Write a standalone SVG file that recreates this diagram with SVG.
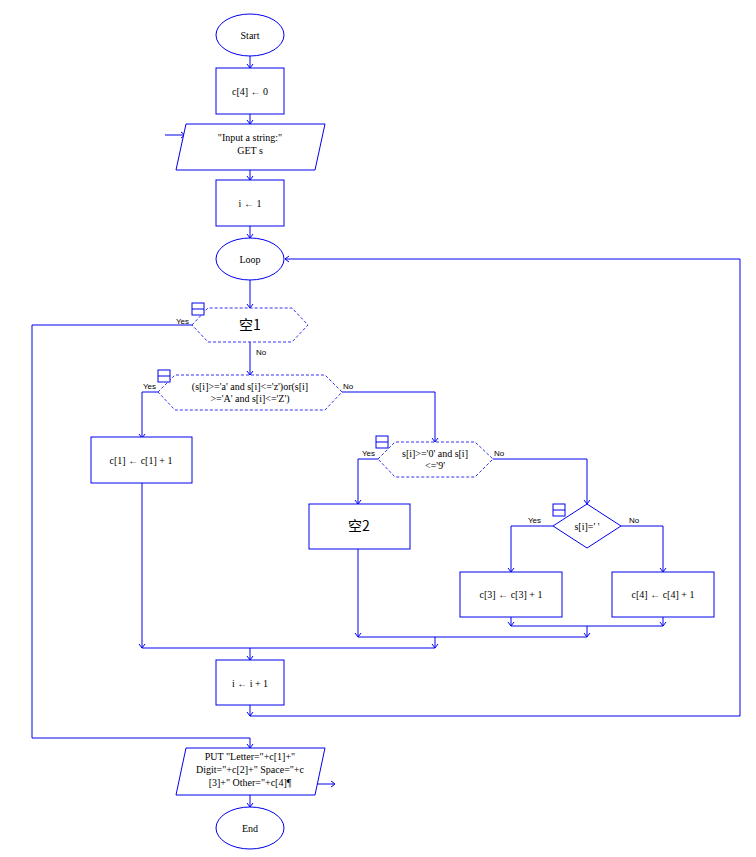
<svg xmlns="http://www.w3.org/2000/svg" width="756" height="857" viewBox="0 0 756 857">
<style>
.s{fill:#fff;stroke:#0000ee;stroke-width:1}
.d{fill:#fff;stroke:#3333ee;stroke-width:1;stroke-dasharray:3,2}
.t{font-family:"Liberation Serif",serif;font-size:10px;fill:#000;text-anchor:middle}
.b{font-family:"Noto Sans CJK SC","Liberation Sans",sans-serif;font-size:14px;fill:#000;text-anchor:middle}
.l{font-family:"Liberation Sans",sans-serif;font-size:8px;fill:#000}
.c{fill:none;stroke:#0000ee;stroke-width:1}
.i{fill:#fff;stroke:#0000ee}
</style>
<defs><marker id="a" markerWidth="8" markerHeight="8" refX="4" refY="4" orient="auto" markerUnits="userSpaceOnUse"><path d="M0,1 L4,4 L0,7" fill="none" stroke="#0000ee"/></marker></defs>
<g id="connectors" class="c">
<path d="M250,56V68" marker-end="url(#a)"/>
<path d="M250,114V124" marker-end="url(#a)"/>
<path d="M165,135H185" marker-end="url(#a)"/>
<path d="M250,170V180" marker-end="url(#a)"/>
<path d="M250,226V238" marker-end="url(#a)"/>
<path d="M250,280V308" marker-end="url(#a)"/>
<path d="M192,325H32V738H250V748" marker-end="url(#a)"/>
<path d="M250,342V375" marker-end="url(#a)"/>
<path d="M158,392H142V438" marker-end="url(#a)"/>
<path d="M342,392H435V442" marker-end="url(#a)"/>
<path d="M378,459H358V504" marker-end="url(#a)"/>
<path d="M493,459H587V504" marker-end="url(#a)"/>
<path d="M553,526H511V572" marker-end="url(#a)"/>
<path d="M621,526H663V572" marker-end="url(#a)"/>
<path d="M511,617V626" marker-end="url(#a)"/>
<path d="M663,617V626" marker-end="url(#a)"/>
<path d="M511,626H663"/>
<path d="M587,626V637" marker-end="url(#a)"/>
<path d="M358,549V637" marker-end="url(#a)"/>
<path d="M358,637H587"/>
<path d="M435,637V648" marker-end="url(#a)"/>
<path d="M142,483V648" marker-end="url(#a)"/>
<path d="M142,648H435"/>
<path d="M250,648V660" marker-end="url(#a)"/>
<path d="M250,705V716" marker-end="url(#a)"/>
<path d="M250,716H740V259H285" marker-end="url(#a)"/>
<path d="M316,784H335" marker-end="url(#a)"/>
<path d="M250,795V807" marker-end="url(#a)"/>
</g>
<g id="start"><ellipse class="s" cx="250" cy="35" rx="34" ry="21"/><text class="t" x="250" y="39">Start</text></g>
<g id="init"><rect class="s" x="216" y="68" width="68" height="46"/><text class="t" x="250" y="95">c[4] ← 0</text></g>
<g id="input"><polygon class="s" points="186,124 325,124 315,170 176,170"/><text class="t" x="250" y="141">"Input a string:"</text><text class="t" x="250" y="154">GET s</text></g>
<g id="i1"><rect class="s" x="216" y="180" width="68" height="46"/><text class="t" x="250" y="207">i ← 1</text></g>
<g id="loop"><ellipse class="s" cx="250" cy="259" rx="34" ry="21"/><text class="t" x="250" y="263">Loop</text></g>
<g id="d1"><polygon class="d" points="192,325 208,308 292,308 308,325 292,342 208,342"/><rect class="i" x="192" y="303" width="12" height="12"/><path class="c" d="M192,309H204"/><text class="b" x="250" y="330">空1</text>
<text class="l" x="176" y="324">Yes</text><text class="l" x="256" y="355">No</text></g>
<g id="d2"><polygon class="d" points="158,392 175,375 325,375 342,392 325,410 175,410"/><rect class="i" x="158" y="370" width="12" height="12"/><path class="c" d="M158,376H170"/>
<text class="t" x="250" y="390">(s[i]&gt;='a' and s[i]&lt;='z')or(s[i]</text><text class="t" x="250" y="402">&gt;='A' and s[i]&lt;='Z')</text>
<text class="l" x="143" y="389">Yes</text><text class="l" x="343" y="389">No</text></g>
<g id="c1"><rect class="s" x="91" y="437" width="101" height="46"/><text class="t" x="141" y="464">c[1] ← c[1] + 1</text></g>
<g id="d3"><polygon class="d" points="378,459 395,442 475,442 493,459 475,477 395,477"/><rect class="i" x="376" y="436" width="12" height="12"/><path class="c" d="M376,442H388"/>
<text class="t" x="435" y="457">s[i]&gt;='0' and s[i]</text><text class="t" x="435" y="469">&lt;='9'</text>
<text class="l" x="362" y="456">Yes</text><text class="l" x="494" y="456">No</text></g>
<g id="k2"><rect class="s" x="309" y="504" width="101" height="45"/><text class="b" x="359" y="531">空2</text></g>
<g id="d4"><polygon class="s" points="553,526 587,504 621,526 587,548"/><rect class="i" x="553" y="504" width="12" height="12"/><path class="c" d="M553,510H565"/>
<text class="t" x="587" y="530">s[i]=' '</text><text class="l" x="528" y="523">Yes</text><text class="l" x="629" y="523">No</text></g>
<g id="c3"><rect class="s" x="460" y="572" width="102" height="45"/><text class="t" x="511" y="598">c[3] ← c[3] + 1</text></g>
<g id="c4"><rect class="s" x="612" y="572" width="102" height="45"/><text class="t" x="663" y="598">c[4] ← c[4] + 1</text></g>
<g id="inc"><rect class="s" x="216" y="660" width="68" height="45"/><text class="t" x="250" y="687">i ← i + 1</text></g>
<g id="output"><polygon class="s" points="186,748 325,748 315,795 176,795"/>
<text class="t" x="250" y="760">PUT "Letter="+c[1]+"</text><text class="t" x="250" y="773">Digit="+c[2]+"  Space="+c</text><text class="t" x="250" y="786">[3]+"  Other="+c[4]¶</text></g>
<g id="end"><ellipse class="s" cx="250" cy="828" rx="34" ry="21"/><text class="t" x="250" y="832">End</text></g>
</svg>
